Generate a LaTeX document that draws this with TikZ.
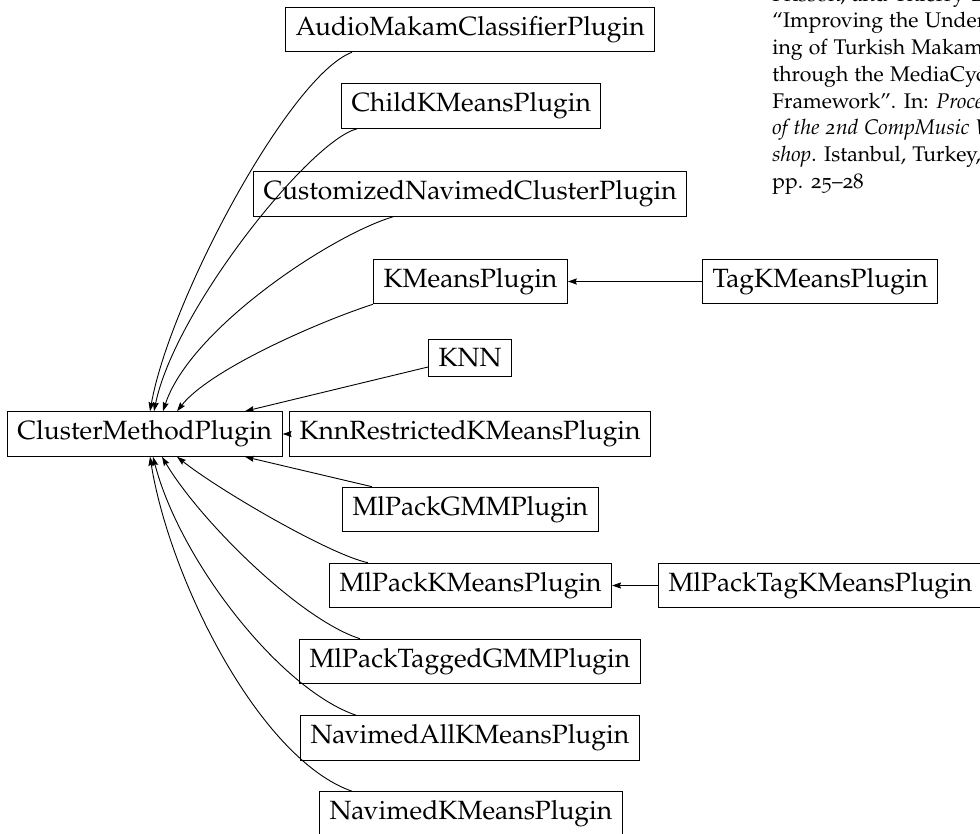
\documentclass[tikz,border=0pt]{standalone}
\usepackage[T1]{fontenc}
\usepackage[osf]{mathpazo}
\usetikzlibrary{arrows.meta,calc}

\begin{document}
\begin{tikzpicture}[x=0.5pt, y=-0.5pt,
    clase/.style={draw, line width=0.5pt, inner xsep=5pt, inner ysep=4.5pt,
        anchor=west, font=\fontsize{13.2}{15}\selectfont},
    herencia/.style={-{Stealth[length=4.5pt,width=3pt,inset=0.6pt]}, line width=0.45pt}]

    \useasboundingbox (0,0) rectangle (980,834);

    % Clase base
    \node[clase] (cmp) at (7,434) {ClusterMethodPlugin};

    % Clases derivadas
    \node[clase] (audio) at (285,29.5) {AudioMakamClassifierPlugin};
    \node[clase] (child) at (341,106) {ChildKMeansPlugin};
    \node[clase] (cust) at (253,194) {CustomizedNavimedClusterPlugin};
    \node[clase] (kmeans) at (373,281.5) {KMeansPlugin};
    \node[clase] (tagkm) at (702,281.5) {TagKMeansPlugin};
    \node[clase] (knn) at (428,358) {KNN};
    \node[clase] (knnr) at (289,434) {KnnRestrictedKMeansPlugin};
    \node[clase] (gmm) at (342,509.5) {MlPackGMMPlugin};
    \node[clase] (mlkm) at (329,585.5) {MlPackKMeansPlugin};
    \node[clase] (mltagkm) at (658,585.5) {MlPackTagKMeansPlugin};
    \node[clase] (mltg) at (299,661.5) {MlPackTaggedGMMPlugin};
    \node[clase] (navall) at (300,738) {NavimedAllKMeansPlugin};
    \node[clase] (navkm) at (319,814) {NavimedKMeansPlugin};

    % Referencia al margen
    \node[anchor=north west, inner sep=0pt, align=left,
        font=\fontsize{10.6}{13.35}\selectfont] (cita) at (772,-14.5) {%
        Frisson, and Thierry Dutoit.\\
        ``Improving the Understand-\\
        ing of Turkish Makam Music\\
        through the MediaCycle\\
        Framework''. In: \textit{Proceedings}\\
        \textit{of the 2nd CompMusic Work-}\\
        \textit{shop}. Istanbul, Turkey, 2012,\\
        pp. 25--28};

    % Herencias (arriba)
    \draw[herencia] ($(audio.south west)+(67,0)$) .. controls +(-62,23) and +(20,-112) .. ($(cmp.north west)+(143,0)$);
    \draw[herencia] ($(child.south west)+(16,0)$) .. controls +(-47,12) and +(21,-102) .. ($(cmp.north west)+(147,0)$);
    \draw[herencia] ($(cust.south west)+(140,0)$) .. controls +(-63,19) and +(27,-82) .. ($(cmp.north west)+(156,0)$);
    \draw[herencia] (kmeans.south west) .. controls +(-53,17) and +(33,-42) .. ($(cmp.north west)+(170,0)$);
    \draw[herencia] ($(knn.west)+(0,9)$) -- ($(cmp.north west)+(238,0)$);

    % Herencia directa
    \draw[herencia] (knnr.west) -- (cmp.east);

    % Herencias (abajo)
    \draw[herencia] ($(gmm.north west)+(30,0)$) -- ($(cmp.south west)+(238,0)$);
    \draw[herencia] ($(mlkm.north west)+(39,0)$) .. controls +(-38,-8) and +(43,34) .. ($(cmp.south west)+(170,0)$);
    \draw[herencia] ($(mltg.north west)+(61,0)$) .. controls +(-60,-19) and +(38,64) .. ($(cmp.south west)+(155,0)$);
    \draw[herencia] ($(navall.north west)+(56,0)$) .. controls +(-76,-26) and +(27,104) .. ($(cmp.south west)+(146,0)$);
    \draw[herencia] ($(navkm.north west)+(33,0)$) .. controls +(-92,-32) and +(20,124) .. ($(cmp.south west)+(143,0)$);

    % Herencias de segundo nivel
    \draw[herencia] (tagkm.west) -- (kmeans.east);
    \draw[herencia] (mltagkm.west) -- (mlkm.east);

\end{tikzpicture}
\end{document}
